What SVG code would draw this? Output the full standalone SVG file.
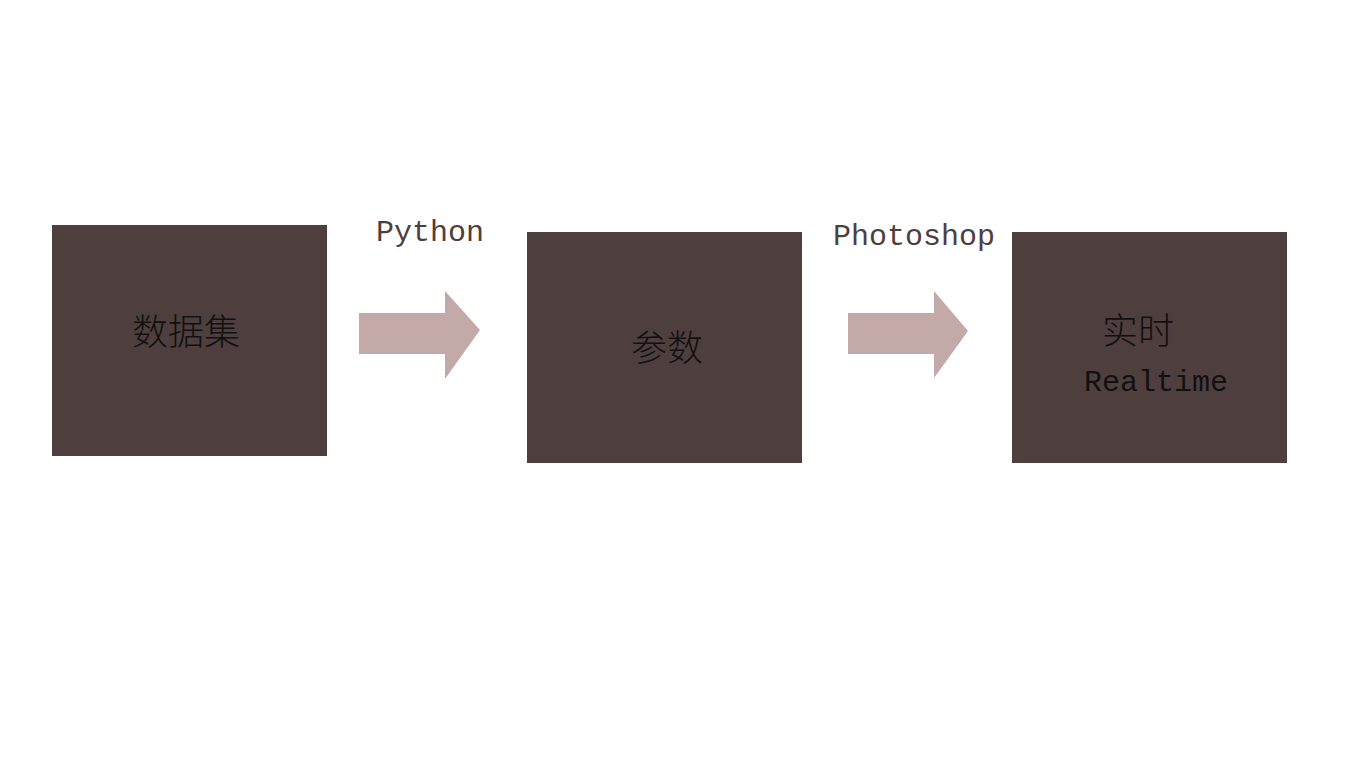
<svg xmlns="http://www.w3.org/2000/svg" width="1366" height="768" viewBox="0 0 1366 768">
<style>
.box{fill:#4f3e3e}
.arr{fill:#c3a9a8}
.cjk{font-family:"Noto Sans CJK SC",sans-serif;font-size:36px;font-weight:300;fill:#111}
.lat{font-family:"Liberation Mono",monospace;font-size:30px}
.lbl{fill:#4f3e3e}
.in{fill:#111}
</style>
<rect width="1366" height="768" fill="#fff"/>
<g id="node-dataset">
<rect class="box" x="52" y="225" width="275" height="231"/>
<text class="cjk" x="186" y="345" text-anchor="middle">数据集</text>
</g>
<g id="node-params">
<rect class="box" x="527" y="232" width="275" height="231"/>
<text class="cjk" x="667" y="361" text-anchor="middle">参数</text>
</g>
<g id="node-realtime">
<rect class="box" x="1012" y="232" width="275" height="231"/>
<text class="cjk" x="1138" y="344" text-anchor="middle">实时</text>
<text class="lat in" x="1156" y="391" text-anchor="middle">Realtime</text>
</g>
<g id="connectors">
<polygon class="arr" points="359,313 445,313 445,291 480,330 445,379 445,354 359,354"/>
<polygon class="arr" points="848,313 934,313 934,291 968,331 934,378 934,354 848,354"/>
<text class="lat lbl" x="430" y="241" text-anchor="middle">Python</text>
<text class="lat lbl" x="914" y="245" text-anchor="middle">Photoshop</text>
</g>
</svg>
